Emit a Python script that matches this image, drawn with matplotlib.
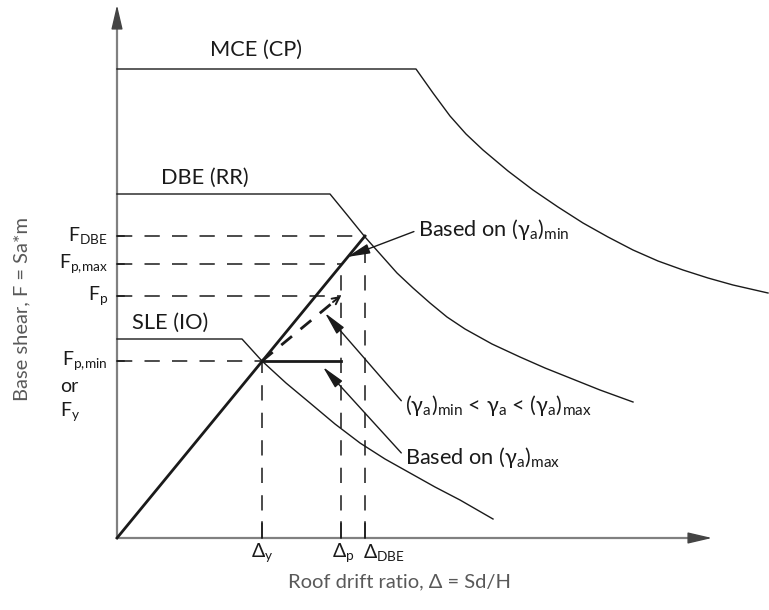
import matplotlib
matplotlib.use('Agg')
from matplotlib import pyplot as plt

plt.rcParams['font.family'] = ['Lato', 'DejaVu Sans']

# schematic units: drift (x) and base shear (y)
delta_y = 145
delta_p = 224
delta_dbe = 248
f_y = 177
f_p = 242
f_pmax = 274
f_dbe = 302

# demand spectra (plateau + descending branch)
sle_x = [0, 125, 145, 169, 193, 218, 243, 268, 293, 318, 343, 376]
sle_y = [199, 199, 177, 155, 135, 114, 95, 79, 65, 51, 38, 19]
dbe_x = [0, 213, 231, 248, 264, 280, 296, 313, 330, 348, 375, 403, 428, 453, 483, 516]
dbe_y = [344, 344, 322, 301, 283, 265, 250, 235, 221, 209, 194, 181, 170, 160, 148, 136]
mce_x = [0, 299, 316, 333, 349, 366, 391, 416, 441, 466, 491, 516, 541, 566, 591, 616, 651]
mce_y = [469, 469, 445, 422, 404, 388, 367, 348, 331, 315, 301, 288, 277, 268, 260, 253, 245]

ink = '#1a1a1a'
axis_col = '#808080'
label_col = '#595959'
fs = 15.7
fs_tick = 14
fs_axis = 14.5

fig = plt.figure(figsize=(7.69, 6.10), dpi=100)
ax = fig.add_axes([0, 0, 1, 1])
ax.set_xlim(-117, 652)
ax.set_ylim(-72, 538)
ax.axis('off')

# axes with arrows
ax.plot([0, 0], [0, 512], color=axis_col, lw=1.6, solid_capstyle='butt')
ax.plot([0, 576], [0, 0], color=axis_col, lw=1.6, solid_capstyle='butt')
head = '-|>,head_length=1.5,head_width=0.35'
ax.annotate('', xy=(0, 533), xytext=(0, 511),
            arrowprops=dict(arrowstyle=head, color='#444444', lw=1, shrinkA=0, shrinkB=0, mutation_scale=10))
ax.annotate('', xy=(595, 0), xytext=(575, 0),
            arrowprops=dict(arrowstyle=head, color='#444444', lw=1, shrinkA=0, shrinkB=0, mutation_scale=10))

# spectra
for xs, ys in [(sle_x, sle_y), (dbe_x, dbe_y), (mce_x, mce_y)]:
    ax.plot(xs, ys, color=ink, lw=1.0)

ax.text(139, 488, 'MCE (CP)', fontsize=fs, ha='center', va='center', color=ink)
ax.text(88, 360, 'DBE (RR)', fontsize=fs, ha='center', va='center', color=ink)
ax.text(53, 215, 'SLE (IO)', fontsize=fs, ha='center', va='center', color=ink)

# dashed guides
dash = dict(color=ink, lw=1.1, dashes=(10, 8))
ax.plot([0, delta_dbe], [f_dbe, f_dbe], **dash)
ax.plot([0, delta_p], [f_pmax, f_pmax], **dash)
ax.plot([0, delta_p], [f_p, f_p], **dash)
ax.plot([0, delta_y], [f_y, f_y], **dash)
ax.plot([delta_y, delta_y], [0, f_y], **dash)
ax.plot([delta_p, delta_p], [0, f_pmax], **dash)
ax.plot([delta_dbe, delta_dbe], [0, f_dbe], **dash)

# capacity curves
ax.plot([0, delta_dbe], [0, f_dbe], color=ink, lw=2.0)
ax.plot([delta_y, delta_p], [f_y, f_y], color=ink, lw=2.0)
ax.plot([delta_y, delta_p - 4], [f_y, f_p - 3], color=ink, lw=2.0, dashes=(5, 4))
ax.annotate('', xy=(delta_p, f_p), xytext=(delta_p - 8, f_p - 6),
            arrowprops=dict(arrowstyle='->,head_length=0.5,head_width=0.25', color=ink, lw=1.4,
                            shrinkA=0, shrinkB=0, mutation_scale=10))

# ticks
for x in [delta_y, delta_p, delta_dbe]:
    ax.plot([x, x], [0, 16], color=ink, lw=1.1)
for y in [f_y, f_p, f_pmax, f_dbe]:
    ax.plot([0, 7], [y, y], color=ink, lw=1.1)

# tick labels
ax.text(-9, f_dbe, r'F$_\mathregular{DBE}$', fontsize=fs_tick, ha='right', va='center', color=ink)
ax.text(-9, f_pmax, r'F$_\mathregular{p,\!max}$', fontsize=fs_tick, ha='right', va='center', color=ink)
ax.text(-9, f_p, r'F$_\mathregular{p}$', fontsize=fs_tick, ha='right', va='center', color=ink)
ax.text(-9, f_y, r'F$_\mathregular{p,\!min}$', fontsize=fs_tick, ha='right', va='center', color=ink)
ax.text(-57, 151, 'or', fontsize=fs_tick, ha='left', va='center', color=ink)
ax.text(-57, 126, r'F$_\mathregular{y}$', fontsize=fs_tick, ha='left', va='center', color=ink)

ax.text(delta_y, -15, r'Δ$_\mathregular{y}$', fontsize=fs_tick, ha='center', va='center', color=ink)
ax.text(delta_p + 2, -15, r'Δ$_\mathregular{p}$', fontsize=fs_tick, ha='center', va='center', color=ink)
ax.text(delta_dbe - 2, -15, r'Δ$_\mathregular{DBE}$', fontsize=fs_tick, ha='left', va='center', color=ink)

# leaders
lead = dict(arrowstyle='-|>,head_length=1.4,head_width=0.3', color=ink, lw=1.0,
            shrinkA=1, shrinkB=0, mutation_scale=10, relpos=(0, 0.5))
ax.annotate(r'Based on (γ$_\mathregular{a}$)$_\mathregular{min}$', xy=(230, 281), xytext=(301, 308),
            fontsize=fs, ha='left', va='center', color=ink, arrowprops=lead)
ax.annotate(r'(γ$_\mathregular{a}$)$_\mathregular{min}$ < γ$_\mathregular{a}$ < (γ$_\mathregular{a}$)$_\mathregular{max}$',
            xy=(208, 225), xytext=(288, 133),
            fontsize=fs, ha='left', va='center', color=ink, arrowprops=lead)
ax.annotate(r'Based on (γ$_\mathregular{a}$)$_\mathregular{max}$', xy=(206, 171), xytext=(288, 81),
            fontsize=fs, ha='left', va='center', color=ink, arrowprops=lead)

# axis titles
ax.text(283, -44, 'Roof drift ratio, Δ = Sd/H', fontsize=fs_axis, ha='center', va='center', color=label_col)
ax.text(-95, 229, 'Base shear, F = Sa*m', fontsize=fs_axis, ha='center', va='center', rotation=90, color=label_col)

plt.savefig('out.png', dpi=100)
